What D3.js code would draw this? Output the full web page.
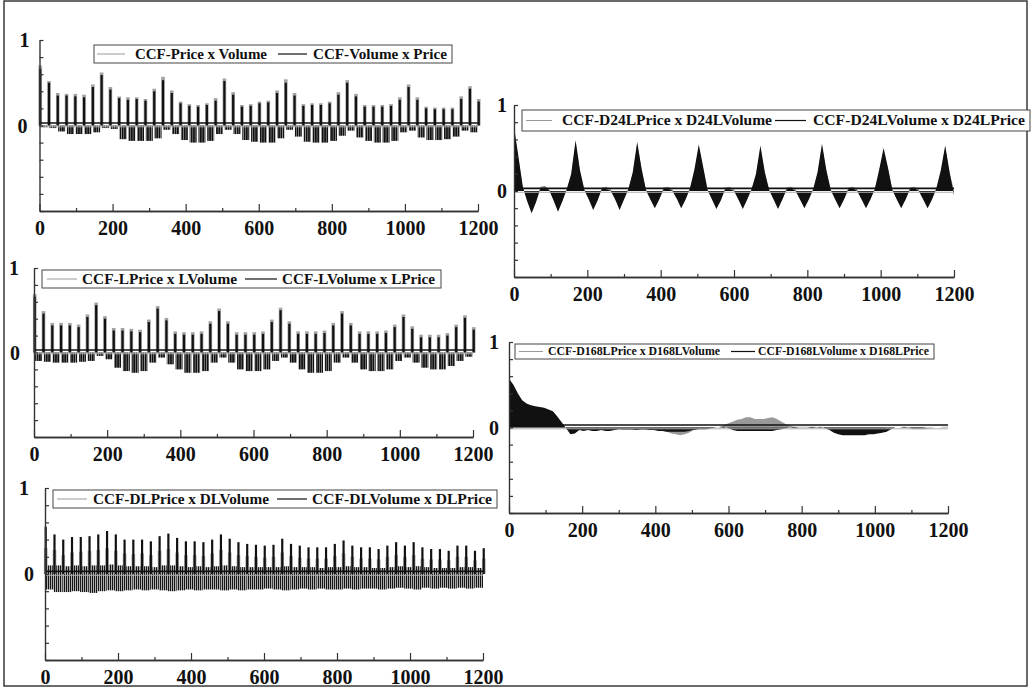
<!DOCTYPE html>
<html><head><meta charset="utf-8">
<script src="https://cdn.jsdelivr.net/npm/d3@7"></script>
<style>
body{margin:0;background:#fff}
svg{display:block}
</style>
</head><body>
<script>
// ---------- DATA ----------
// Spike panels: one value per 24-lag day (lags 0,24,...,1200)
const dayLags = d3.range(0, 1201, 24);
// Panel 1: CCF-Price x Volume (gray) / CCF-Volume x Price (black)
const p1BlackPeak = [0.66,0.50,0.35,0.35,0.34,0.33,0.45,0.59,0.42,0.32,0.30,0.31,0.29,0.40,0.53,0.38,0.26,0.23,0.22,0.24,0.29,0.52,0.36,0.22,0.23,0.26,0.27,0.38,0.50,0.35,0.23,0.24,0.24,0.26,0.36,0.50,0.34,0.22,0.22,0.22,0.23,0.30,0.45,0.30,0.20,0.19,0.19,0.19,0.31,0.43,0.28];
const p1GrayPeak = [0.70,0.52,0.38,0.37,0.37,0.36,0.48,0.62,0.45,0.34,0.33,0.33,0.31,0.43,0.57,0.41,0.28,0.25,0.24,0.26,0.32,0.55,0.39,0.24,0.25,0.28,0.29,0.41,0.54,0.38,0.25,0.26,0.26,0.28,0.39,0.53,0.37,0.24,0.24,0.24,0.25,0.33,0.48,0.33,0.22,0.21,0.21,0.21,0.34,0.46,0.31];
const p1Trough = [-0.02,-0.03,-0.07,-0.10,-0.10,-0.10,-0.08,-0.03,-0.04,-0.16,-0.18,-0.18,-0.18,-0.15,-0.05,-0.10,-0.17,-0.20,-0.20,-0.18,-0.10,-0.05,-0.10,-0.17,-0.19,-0.20,-0.20,-0.15,-0.05,-0.13,-0.19,-0.20,-0.20,-0.18,-0.12,-0.06,-0.14,-0.18,-0.20,-0.20,-0.18,-0.08,-0.06,-0.14,-0.17,-0.17,-0.16,-0.13,-0.06,-0.08,-0.05];

// Panel 3: CCF-LPrice x LVolume / CCF-LVolume x LPrice
const p3BlackPeak = [0.66,0.46,0.32,0.32,0.32,0.30,0.42,0.56,0.40,0.26,0.26,0.25,0.24,0.36,0.52,0.38,0.22,0.21,0.21,0.22,0.34,0.49,0.34,0.21,0.21,0.21,0.22,0.36,0.50,0.34,0.22,0.22,0.22,0.23,0.32,0.46,0.32,0.22,0.22,0.22,0.23,0.30,0.42,0.28,0.18,0.18,0.18,0.20,0.30,0.41,0.27];
const p3GrayPeak = [0.69,0.49,0.35,0.35,0.35,0.33,0.45,0.59,0.43,0.29,0.29,0.28,0.27,0.39,0.55,0.41,0.25,0.24,0.24,0.25,0.37,0.52,0.37,0.24,0.24,0.24,0.25,0.39,0.53,0.37,0.25,0.25,0.25,0.26,0.35,0.49,0.35,0.25,0.25,0.25,0.26,0.33,0.45,0.31,0.21,0.21,0.21,0.23,0.33,0.44,0.30];
const p3Trough = [-0.10,-0.11,-0.12,-0.12,-0.12,-0.11,-0.10,-0.04,-0.08,-0.18,-0.22,-0.24,-0.22,-0.12,-0.06,-0.14,-0.20,-0.24,-0.24,-0.22,-0.12,-0.06,-0.12,-0.20,-0.22,-0.22,-0.20,-0.10,-0.06,-0.12,-0.20,-0.24,-0.24,-0.22,-0.12,-0.06,-0.12,-0.20,-0.22,-0.22,-0.20,-0.10,-0.06,-0.12,-0.18,-0.20,-0.20,-0.16,-0.10,-0.05,-0.06];

// Panel 5: CCF-DLPrice x DLVolume / CCF-DLVolume x DLPrice
const p5BlackPeak = [0.55,0.46,0.40,0.43,0.43,0.44,0.46,0.50,0.46,0.40,0.40,0.40,0.38,0.44,0.47,0.42,0.38,0.38,0.37,0.40,0.46,0.41,0.37,0.35,0.34,0.33,0.34,0.41,0.35,0.33,0.31,0.31,0.31,0.35,0.39,0.33,0.31,0.31,0.29,0.33,0.37,0.33,0.37,0.31,0.29,0.29,0.27,0.33,0.33,0.27,0.30];
const p5GrayPeak = [0.30,0.28,0.22,0.25,0.26,0.27,0.28,0.30,0.27,0.24,0.23,0.24,0.22,0.27,0.29,0.25,0.22,0.22,0.21,0.24,0.28,0.25,0.22,0.21,0.20,0.19,0.20,0.25,0.21,0.19,0.18,0.18,0.18,0.21,0.24,0.20,0.18,0.18,0.17,0.20,0.22,0.20,0.22,0.18,0.17,0.17,0.16,0.20,0.20,0.16,0.18];
const p5Trough = [-0.18,-0.21,-0.21,-0.20,-0.21,-0.22,-0.20,-0.19,-0.20,-0.19,-0.18,-0.19,-0.18,-0.19,-0.20,-0.19,-0.18,-0.19,-0.18,-0.18,-0.19,-0.18,-0.19,-0.18,-0.18,-0.17,-0.18,-0.19,-0.18,-0.17,-0.18,-0.17,-0.18,-0.18,-0.17,-0.18,-0.17,-0.17,-0.18,-0.17,-0.16,-0.17,-0.18,-0.16,-0.17,-0.16,-0.17,-0.16,-0.17,-0.16,-0.15];
const p5Band = [0.10,0.10,0.09,0.10,0.09,0.10,0.10,0.11,0.10,0.09,0.09,0.09,0.08,0.10,0.10,0.09,0.08,0.09,0.08,0.09,0.10,0.09,0.08,0.08,0.08,0.08,0.08,0.09,0.08,0.08,0.08,0.07,0.08,0.08,0.09,0.08,0.08,0.07,0.07,0.08,0.09,0.08,0.09,0.08,0.07,0.07,0.07,0.08,0.08,0.07,0.07];

// Smooth panels: one value per 12 lags (lags 0,12,...,1200)
const stepLags = d3.range(0, 1201, 12);
// Panel 2: CCF-D24LPrice x D24LVolume (gray) / CCF-D24LVolume x D24LPrice (black)
const p2Black = [
 0.75,0.40,0.05,-0.12,-0.26,-0.13,0.03,0.04,0.01,-0.11,-0.24,-0.12,0.02,0.20,
 0.59,0.24,0.01,-0.10,-0.22,-0.11,0.03,0.02,0.00,-0.10,-0.22,-0.10,0.02,0.22,
 0.57,0.26,0.01,-0.10,-0.20,-0.10,0.02,0.03,0.00,-0.09,-0.20,-0.10,0.03,0.25,
 0.54,0.28,0.01,-0.10,-0.21,-0.11,0.02,0.02,0.00,-0.10,-0.21,-0.10,0.02,0.20,
 0.53,0.22,0.01,-0.10,-0.21,-0.10,0.02,0.03,0.00,-0.10,-0.20,-0.10,0.02,0.22,
 0.55,0.24,0.01,-0.10,-0.20,-0.10,0.02,0.03,0.00,-0.10,-0.20,-0.10,0.02,0.25,
 0.50,0.27,0.01,-0.10,-0.20,-0.10,0.02,0.03,0.00,-0.10,-0.20,-0.10,0.03,0.24,
 0.53,0.22,-0.05];
const p2Gray = [
 0.72,0.38,0.04,-0.11,-0.24,-0.12,0.05,0.06,0.02,-0.10,-0.22,-0.11,0.03,0.18,
 0.56,0.22,0.02,-0.09,-0.20,-0.10,0.04,0.05,0.02,-0.09,-0.20,-0.09,0.03,0.20,
 0.54,0.24,0.02,-0.09,-0.18,-0.09,0.04,0.05,0.02,-0.08,-0.18,-0.09,0.04,0.22,
 0.51,0.26,0.02,-0.09,-0.19,-0.10,0.04,0.05,0.02,-0.09,-0.19,-0.09,0.03,0.18,
 0.50,0.20,0.02,-0.09,-0.19,-0.09,0.04,0.05,0.02,-0.09,-0.18,-0.09,0.03,0.20,
 0.52,0.22,0.02,-0.09,-0.18,-0.09,0.04,0.05,0.02,-0.09,-0.18,-0.09,0.03,0.22,
 0.47,0.25,0.02,-0.09,-0.18,-0.09,0.04,0.05,0.02,-0.09,-0.18,-0.09,0.04,0.22,
 0.50,0.20,0.02];
// Panel 4: CCF-D168LPrice x D168LVolume (gray) / CCF-D168LVolume x D168LPrice (black)
const p4Black = [
 0.57,0.50,0.40,0.32,0.28,0.26,0.25,0.24,0.23,0.21,0.19,0.13,0.06,-0.01,-0.08,-0.07,-0.03,-0.04,-0.03,-0.04,
 -0.04,-0.03,-0.04,-0.04,-0.03,-0.02,-0.02,-0.02,-0.02,-0.03,-0.02,-0.02,-0.03,-0.03,-0.04,-0.04,-0.05,-0.05,-0.05,-0.05,
 -0.05,-0.04,-0.03,-0.02,-0.02,-0.02,-0.01,0.00,0.00,0.01,-0.01,-0.03,-0.04,-0.04,-0.04,-0.04,-0.04,-0.04,-0.04,-0.04,
 -0.04,-0.03,-0.02,-0.01,0.00,-0.01,0.00,0.00,0.00,-0.01,0.00,0.01,-0.01,-0.03,-0.06,-0.08,-0.09,-0.09,-0.09,-0.09,
 -0.09,-0.09,-0.08,-0.08,-0.07,-0.06,-0.05,-0.02,0.00,0.00,0.01,0.00,-0.01,-0.01,-0.01,0.00,0.00,0.00,0.00,0.00,0.00];
const p4Gray = [
 0.55,0.48,0.38,0.30,0.26,0.24,0.23,0.22,0.21,0.19,0.17,0.11,0.04,-0.01,-0.03,-0.03,-0.02,-0.02,-0.02,-0.02,
 -0.02,-0.02,-0.02,-0.02,-0.02,-0.02,-0.03,-0.03,-0.03,-0.03,-0.03,-0.03,-0.03,-0.03,-0.03,-0.04,-0.05,-0.07,-0.08,-0.09,
 -0.08,-0.06,-0.03,-0.02,-0.01,-0.01,-0.01,-0.01,0.01,0.03,0.05,0.07,0.09,0.10,0.12,0.12,0.10,0.10,0.10,0.11,
 0.12,0.10,0.07,0.04,0.02,0.01,0.01,0.01,0.01,0.01,0.01,0.00,-0.01,-0.01,-0.01,-0.01,-0.01,-0.01,-0.01,-0.01,
 -0.01,-0.01,-0.01,-0.01,-0.01,-0.01,0.00,0.00,0.00,0.00,0.00,-0.01,-0.02,-0.02,-0.02,-0.02,-0.01,0.00,0.00,0.01,0.01];

const xTicksMajor = [0,200,400,600,800,1000,1200];
const xTicksMinor = [100,300,500,700,900,1100];
const yTicks = d3.range(-1, 1.001, 0.2);
const yLabels = [1, 0];

// ---------- DRAW ----------
const FONT = '"Liberation Serif","Times New Roman",serif';
const BLACK = '#111', GRAY = '#a3a3a3';
const svg = d3.select('body').append('svg').attr('width',1032).attr('height',687);
const defs = svg.append('defs');
function stripe(id, w, bw, color){
  const p = defs.append('pattern').attr('id',id).attr('width',w).attr('height',10).attr('patternUnits','userSpaceOnUse');
  p.append('rect').attr('width',bw).attr('height',10).attr('fill',color);
}
stripe('negK', 2.3, 1.9, BLACK);
stripe('bandK', 2, 1.35, '#151515');

svg.append('rect').attr('x',4).attr('y',1).attr('width',1023).attr('height',685)
  .attr('fill','#fff').attr('stroke','#3a3a3a').attr('stroke-width',1.5);

function spikes(g, x, y, black, gray, trough, band){
  const rows = dayLags.map((lag,i)=>({lag, pk:black[i], gp:gray[i], tr:trough[i], bd: band ? band[i] : null}));
  const blocks = rows.filter(d=>d.lag+3 < 1200);
  if (band){
    g.append('g').selectAll('rect').data(blocks).join('rect')
      .attr('x', d=>x(d.lag)).attr('width', d=>x(Math.min(d.lag+24,1200))-x(d.lag))
      .attr('y', d=>y(d.bd)).attr('height', d=>y(d.tr)-y(d.bd))
      .attr('fill','url(#bandK)');
  } else {
    g.append('g').selectAll('rect').data(blocks).join('rect')
      .attr('x', d=>x(d.lag+3)).attr('width', d=>x(Math.min(d.lag+22,1200))-x(d.lag+3))
      .attr('y', y(0)).attr('height', d=>y(d.tr)-y(0))
      .attr('fill','url(#negK)');
  }
  g.append('g').selectAll('rect').data(rows).join('rect')
    .attr('x', d=>x(d.lag-3)).attr('width', d=>x(d.lag+7)-x(d.lag-3))
    .attr('y', d=>y(d.gp)).attr('height', d=>y(0)-y(d.gp)).attr('fill',GRAY);
  g.append('g').selectAll('rect').data(rows).join('rect')
    .attr('x', d=>x(d.lag-1)).attr('width', d=>x(d.lag+5)-x(d.lag-1))
    .attr('y', d=>y(d.pk)).attr('height', d=>y(0)-y(d.pk)).attr('fill',BLACK);
}
function areas(g, x, y, black, gray){
  const ar = d3.area().x((d,i)=>x(stepLags[i])).y0(y(0)).y1(d=>y(d));
  g.append('path').datum(gray).attr('d',ar).attr('fill','#999');
  g.append('path').datum(black).attr('d',ar).attr('fill',BLACK);
}

const panels = [
  {x0:39.5,x1:478,yTop:40,yBot:211,ylx:[10,12],
   leg:{box:[94,45,452,63],l1:[97,125],t1:[135,132],l2:[278,307],t2:[313,134],fs:14,
        s1:'CCF-Price x Volume',s2:'CCF-Volume x Price'},
   draw:(g,x,y)=>spikes(g,x,y,p1BlackPeak,p1GrayPeak,p1Trough)},
  {x0:514,x1:954,yTop:105,yBot:277,ylx:[7,7],
   leg:{box:[522,110,1030,131],l1:[526,552],t1:[562,210],l2:[775,806],t2:[813,212],fs:14.5,
        s1:'CCF-D24LPrice x D24LVolume',s2:'CCF-D24LVolume x D24LPrice'},
   draw:(g,x,y)=>areas(g,x,y,p2Black,p2Gray)},
  {x0:34,x1:473,yTop:268,yBot:437,ylx:[15,14],
   leg:{box:[42,270,441,288],l1:[47,77],t1:[82,155],l2:[245,277],t2:[282,153],fs:14,
        s1:'CCF-LPrice x LVolume',s2:'CCF-LVolume x LPrice'},
   draw:(g,x,y)=>spikes(g,x,y,p3BlackPeak,p3GrayPeak,p3Trough)},
  {x0:509,x1:948,yTop:342,yBot:513,ylx:[10,10],
   leg:{box:[515,344,934,359],l1:[519,543],t1:[548,172],l2:[731,755],t2:[758,171],fs:11.5,
        s1:'CCF-D168LPrice x D168LVolume',s2:'CCF-D168LVolume x D168LPrice'},
   draw:(g,x,y)=>areas(g,x,y,p4Black,p4Gray)},
  {x0:45,x1:483,yTop:488,yBot:660,ylx:[16,11],
   leg:{box:[53,490,497,508],l1:[57,87],t1:[93,176],l2:[277,307],t2:[312,180],fs:14,
        s1:'CCF-DLPrice x DLVolume',s2:'CCF-DLVolume x DLPrice'},
   draw:(g,x,y)=>spikes(g,x,y,p5BlackPeak,p5GrayPeak,p5Trough,p5Band)}
];

function styleAxis(sel){
  sel.attr('font-family',FONT).attr('font-size',20).attr('font-weight','bold');
  sel.select('.domain').attr('stroke','#333').attr('stroke-width',1.4);
  sel.selectAll('.tick line').attr('stroke','#333').attr('stroke-width',1.2);
  sel.selectAll('.tick text').attr('fill','#111');
}

panels.forEach(p=>{
  const g = svg.append('g');
  const x = d3.scaleLinear().domain([0,1200]).range([p.x0,p.x1]);
  const y = d3.scaleLinear().domain([-1,1]).range([p.yBot,p.yTop]);
  p.draw(g,x,y);
  // reference lines near zero
  g.append('line').attr('x1',x(0)).attr('x2',x(1200)).attr('y1',y(-0.015)).attr('y2',y(-0.015))
    .attr('stroke','#b0b0b0').attr('stroke-width',1);
  g.append('line').attr('x1',x(0)).attr('x2',x(1200)).attr('y1',y(0.03)).attr('y2',y(0.03))
    .attr('stroke',BLACK).attr('stroke-width',1.6);
  // axes
  g.append('g').attr('transform',`translate(0,${p.yBot})`)
    .call(d3.axisBottom(x).tickValues(xTicksMajor).tickSizeInner(-7).tickSizeOuter(0).tickPadding(10).tickFormat(d3.format('d')))
    .call(styleAxis);
  g.append('g').attr('transform',`translate(0,${p.yBot})`)
    .call(d3.axisBottom(x).tickValues(xTicksMinor).tickSizeInner(-3).tickSizeOuter(0).tickFormat(''))
    .call(styleAxis);
  g.append('g').attr('transform',`translate(${p.x0},0)`)
    .call(d3.axisLeft(y).tickValues(yTicks).tickSizeInner(-4).tickSizeOuter(0).tickFormat(''))
    .call(styleAxis);
  g.selectAll('text.ylab').data(yLabels).join('text').attr('class','ylab')
    .attr('x',(d,i)=>p.x0 - p.ylx[i]).attr('y',d=>y(d)+7)
    .attr('text-anchor','end').attr('font-family',FONT).attr('font-size',20).attr('font-weight','bold')
    .attr('fill','#111').text(d=>d);
  // legend
  const L = p.leg, b = L.box, mid = (b[1]+b[3])/2;
  const lg = g.append('g');
  lg.append('rect').attr('x',b[0]).attr('y',b[1]).attr('width',b[2]-b[0]).attr('height',b[3]-b[1])
    .attr('fill','#fff').attr('stroke','#444').attr('stroke-width',1);
  lg.append('line').attr('x1',L.l1[0]).attr('x2',L.l1[1]).attr('y1',mid).attr('y2',mid).attr('stroke','#999').attr('stroke-width',1);
  lg.append('line').attr('x1',L.l2[0]).attr('x2',L.l2[1]).attr('y1',mid).attr('y2',mid).attr('stroke',BLACK).attr('stroke-width',1.2);
  [[L.t1,L.s1],[L.t2,L.s2]].forEach(([t,s])=>{
    lg.append('text').attr('x',t[0]).attr('y',mid + L.fs*0.34)
      .attr('font-family',FONT).attr('font-size',L.fs).attr('font-weight','bold').attr('fill','#111')
      .attr('textLength',t[1]).attr('lengthAdjust','spacingAndGlyphs').text(s);
  });
});
</script>
</body></html>
